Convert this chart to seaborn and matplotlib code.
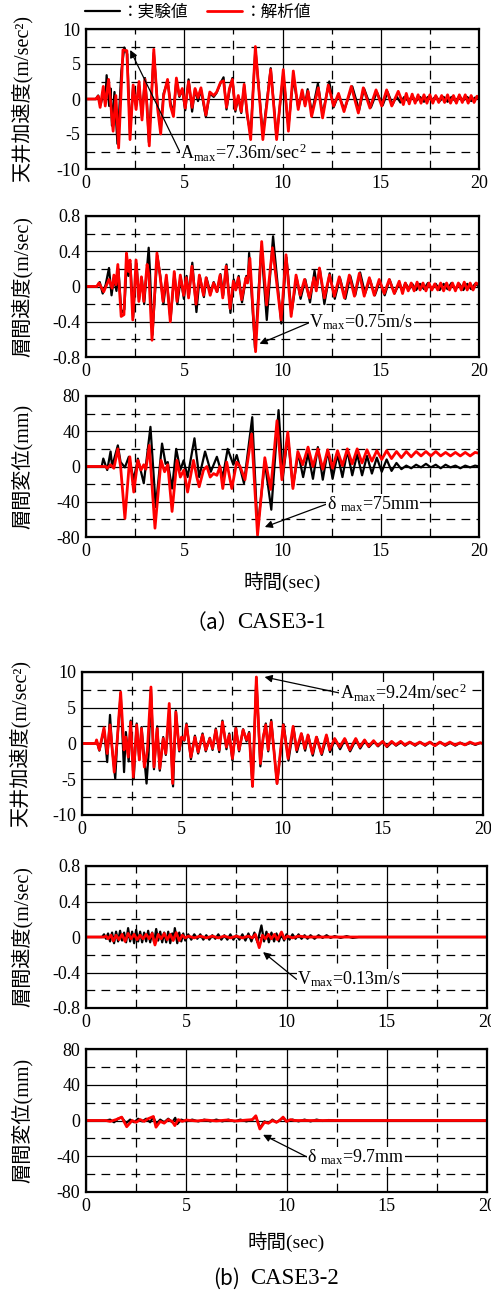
import matplotlib
matplotlib.use("Agg")
import matplotlib.pyplot as plt
import seaborn as sns

# ---------------- data (extrema) ----------------
# CASE3-1 ceiling acceleration (m/sec^2)
t_acc1_ana = [0, 0.5, 0.62, 0.72, 0.88, 0.98, 1.15, 1.38, 1.52, 1.66, 1.88, 2.08, 2.24, 2.4, 2.55, 2.7, 2.85, 3.0, 3.1, 3.22,
              3.45, 3.65, 3.8, 3.95, 4.15, 4.3, 4.45, 4.6, 4.75, 4.9, 5.05, 5.22, 5.4, 5.55, 5.7, 5.85, 6.1, 6.3, 6.5, 6.65,
              6.85, 7.0, 7.15, 7.3, 7.45, 7.6, 7.75, 7.9, 8.05, 8.2, 8.38, 8.62, 9.0, 9.4, 9.7, 10.04, 10.3, 10.55, 10.8, 11.0,
              11.15, 11.3, 11.48, 11.82, 12.04, 12.33, 12.6, 12.85, 13.13, 13.5, 13.86, 14.11, 14.45, 14.76, 15.05, 15.3, 15.56, 15.89, 16.15, 16.3,
              16.45, 16.6, 16.75, 16.9, 17.05, 17.2, 17.35, 17.5, 17.65, 17.8, 17.95, 18.1, 18.25, 18.4, 18.55, 18.7, 18.85, 19.0, 19.15, 19.3,
              19.45, 19.6, 19.75, 19.9, 20.0]
acc1_ana = [0, 0, 0.4, -1.2, 1.8, -1.0, 2.8, -4.6, 0.5, -7.0, 7.0, 6.9, -5.8, 2.0, -1.5, 2.5, -3.0, 2.8, -1.0, -6.7,
            7.1, -1.5, -5.0, 0.5, 2.8, -1.0, -2.5, 3.0, 0.5, 1.5, -1.3, 2.5, -1.2, 1.5, 0.2, 1.6, -2.3, 1.0, 0.5, 1.0,
            2.4, 2.6, -1.2, 1.5, 2.8, -1.5, 0.5, -1.8, 2.1, -2.0, -5.8, 7.5, -5.8, 4.2, -5.8, 4.2, -4.6, 4.0, -1.5, 1.3,
            -1.0, 1.1, -2.5, 1.6, -2.7, 2.0, -1.0, 0.8, -1.8, 1.8, -2.0, 1.6, -1.3, 1.3, -1.0, 1.3, -1.0, 1.1, -0.8, 0.8,
            -0.7, 0.7, -0.6, 0.6, -0.6, 0.6, -0.6, 0.6, -0.6, 0.5, -0.5, 0.5, -0.5, 0.6, -0.6, 0.5, -0.6, 0.6, -0.5, 0.6,
            -0.6, 0.5, -0.5, 0.4, 0]
t_acc1_exp = [0, 0.5, 0.62, 0.75, 0.9, 0.98, 1.05, 1.18, 1.25, 1.32, 1.45, 1.6, 1.8, 1.95, 2.1, 2.24, 2.4, 2.55, 2.7, 2.85,
              3.0, 3.1, 3.2, 3.45, 3.65, 3.8, 3.95, 4.15, 4.3, 4.45, 4.6, 4.75, 4.9, 5.05, 5.22, 5.4, 5.55, 5.7, 5.85, 6.1,
              6.3, 6.5, 6.65, 6.85, 7.0, 7.15, 7.3, 7.45, 7.6, 7.75, 7.9, 8.05, 8.2, 8.38, 8.62, 9.0, 9.4, 9.7, 10.04, 10.3,
              10.55, 10.8, 11.0, 11.15, 11.28, 11.5, 11.8, 12.04, 12.38, 12.6, 12.85, 13.15, 13.55, 13.9, 14.15, 14.5, 14.8, 15.1, 15.35, 15.6,
              15.8, 16.0, 16.2, 16.4, 16.6, 16.8, 17.0, 17.2, 17.4, 17.6, 17.8, 18.0, 18.2, 18.4, 18.6, 18.8, 19.0, 19.2, 19.4, 19.6,
              19.8, 20.0]
acc1_exp = [0, 0, 0.5, -0.8, 1.2, -0.5, 3.4, -1.0, 1.5, -3.8, 1.0, -6.4, 4.0, 7.36, 6.4, -5.0, 1.8, -1.0, 2.0, -2.5,
            3.0, -0.5, -6.2, 6.6, -1.0, -4.4, 0.8, 2.5, -0.5, -2.0, 2.7, 0.3, 1.3, -1.6, 2.8, -1.8, 1.4, -0.3, 1.3, -2.6,
            0.8, 0.3, 0.9, 2.3, 3.1, -1.5, 1.2, 3.0, -1.8, 0.3, -2.0, 1.9, -2.4, -5.0, 7.2, -5.2, 4.4, -5.4, 3.6, -4.0,
            3.0, -1.2, 0.9, -0.8, 1.4, -2.0, 2.2, -2.2, 2.5, -1.2, 0.6, -1.5, 1.8, -1.6, 1.5, -1.2, 1.0, -0.9, 1.0, -0.8,
            0.4, -0.5, 0.3, -0.3, 0.4, -0.3, 0.3, -0.4, 0.3, -0.2, 0.4, -0.3, 0.3, -0.4, 0.3, -0.3, 0.4, -0.2, 0.3, -0.3,
            0.2, 0]

# CASE3-1 inter-story velocity (m/sec)
t_vel1_ana = [0, 0.55, 0.66, 0.9, 1.17, 1.33, 1.42, 1.52, 1.62, 1.79, 1.93, 2.06, 2.16, 2.24, 2.38, 2.55, 2.69, 2.82, 2.94, 3.11,
              3.2, 3.36, 3.61, 3.78, 3.92, 4.09, 4.29, 4.49, 4.63, 4.8, 4.97, 5.1, 5.22, 5.39, 5.6, 5.77, 5.98, 6.11, 6.32, 6.49,
              6.66, 6.82, 6.96, 7.13, 7.33, 7.5, 7.62, 7.75, 7.92, 8.14, 8.22, 8.34, 8.63, 8.94, 9.19, 9.49, 9.93, 10.18, 10.44, 10.69,
              10.9, 11.12, 11.37, 11.6, 11.72, 11.88, 12.13, 12.39, 12.64, 12.89, 13.15, 13.4, 13.66, 13.91, 14.16, 14.42, 14.67, 14.92, 15.18, 15.43,
              15.69, 15.94, 16.11, 16.25, 16.4, 16.55, 16.7, 16.85, 17.0, 17.15, 17.3, 17.45, 17.6, 17.75, 17.9, 18.05, 18.2, 18.35, 18.5, 18.65,
              18.8, 18.95, 19.1, 19.25, 19.4, 19.55, 19.7, 19.85, 20.0]
vel1_ana = [0, 0, 0.04, -0.06, 0.08, -0.02, 0.13, 0.02, 0.25, -0.34, -0.32, 0.38, 0.17, 0.3, -0.38, 0.3, -0.17, 0.11, -0.17, 0.25,
            0.13, -0.61, 0.38, 0.1, -0.17, 0.13, -0.4, 0.17, -0.17, 0.13, -0.1, 0.1, -0.13, 0.23, -0.2, 0.13, -0.1, 0.1, -0.1, 0.04,
            -0.06, 0.13, -0.13, 0.23, -0.25, 0.06, -0.04, 0.1, -0.15, 0.1, 0.04, 0.32, -0.74, 0.51, -0.21, 0.44, -0.38, 0.36, -0.34, 0.13,
            -0.1, 0.08, -0.13, 0.1, -0.05, 0.21, -0.13, 0.13, -0.11, 0.11, -0.13, 0.13, -0.11, 0.15, -0.11, 0.1, -0.1, 0.08, -0.08, 0.08,
            -0.08, 0.06, -0.08, 0.04, -0.05, 0.04, -0.05, 0.05, -0.04, 0.04, -0.05, 0.04, -0.04, 0.03, -0.04, 0.04, -0.05, 0.04, -0.04, 0.04,
            -0.05, 0.04, -0.04, 0.05, -0.04, 0.04, -0.04, 0.04, 0.02]
t_vel1_exp = [0, 0.55, 0.7, 0.85, 1.0, 1.17, 1.3, 1.42, 1.55, 1.65, 1.8, 1.95, 2.08, 2.16, 2.26, 2.4, 2.57, 2.7, 2.84, 2.96,
              3.19, 3.25, 3.38, 3.63, 3.78, 3.94, 4.1, 4.3, 4.5, 4.65, 4.82, 4.98, 5.12, 5.24, 5.41, 5.62, 5.79, 6.0, 6.13, 6.34,
              6.5, 6.68, 6.84, 6.98, 7.15, 7.35, 7.52, 7.64, 7.77, 7.94, 8.16, 8.24, 8.3, 8.6, 8.92, 9.2, 9.52, 9.94, 10.2, 10.46,
              10.72, 10.92, 11.16, 11.4, 11.63, 11.75, 11.9, 12.13, 12.4, 12.66, 12.92, 13.2, 13.45, 13.7, 13.95, 14.2, 14.45, 14.7, 14.95, 15.2,
              15.45, 15.7, 15.95, 16.1, 16.25, 16.45, 16.6, 16.8, 17.0, 17.2, 17.4, 17.6, 17.8, 18.0, 18.2, 18.4, 18.6, 18.8, 19.0, 19.2,
              19.4, 19.6, 19.8, 20.0]
vel1_exp = [0, 0, 0.05, -0.08, 0.02, 0.21, -0.1, 0.1, -0.05, 0.2, -0.3, -0.26, 0.3, 0.12, 0.26, -0.35, 0.26, -0.15, 0.1, -0.2,
            0.44, 0.2, -0.55, 0.35, 0.12, -0.2, 0.1, -0.38, 0.15, -0.2, 0.1, -0.14, 0.12, -0.1, 0.27, -0.29, 0.12, -0.12, 0.1, -0.08,
            0.05, -0.06, 0.14, -0.1, 0.25, -0.3, 0.08, -0.03, 0.12, -0.18, 0.12, 0.05, 0.38, -0.7, 0.45, -0.38, 0.57, -0.42, 0.33, -0.3,
            0.1, -0.14, 0.08, -0.18, 0.18, 0.0, 0.2, -0.2, 0.15, -0.14, 0.1, -0.14, 0.12, -0.1, 0.16, -0.08, 0.08, -0.1, 0.06, -0.1,
            0.08, -0.08, 0.04, -0.05, 0.04, -0.03, 0.03, -0.04, 0.03, -0.03, 0.04, -0.03, 0.03, -0.04, 0.03, -0.03, 0.04, -0.03, 0.03, -0.04,
            0.03, -0.03, 0.03, 0.0]

# CASE3-1 inter-story drift (mm)
t_dis1_ana = [0, 1.0, 1.08, 1.25, 1.42, 1.62, 1.76, 1.98, 2.23, 2.43, 2.64, 2.8, 2.94, 3.05, 3.22, 3.51, 3.82, 4.0, 4.16, 4.38,
              4.63, 4.8, 4.98, 5.17, 5.47, 5.64, 5.76, 5.98, 6.15, 6.32, 6.49, 6.66, 6.82, 6.96, 7.16, 7.42, 7.67, 7.84, 8.09, 8.43,
              8.73, 9.1, 9.4, 9.72, 9.97, 10.27, 10.53, 10.78, 11.03, 11.3, 11.55, 11.8, 12.05, 12.3, 12.55, 12.8, 13.05, 13.3, 13.55, 13.8,
              14.05, 14.3, 14.55, 14.8, 15.05, 15.3, 15.55, 15.8, 16.05, 16.3, 16.55, 16.8, 17.05, 17.3, 17.55, 17.8, 18.05, 18.3, 18.55, 18.8,
              19.05, 19.3, 19.55, 19.8, 20.0]
dis1_ana = [0, 0, -2, 2, -2, 20, 0, -59, 11, -29, 7, -4, 2, -3, 24, -70, 7, -6, 2, -51,
            7, -12, -4, -29, 7, -12, -23, -4, 0, -12, -8, -10, 0, -25, 5, -25, 5, 0, -15, 37,
            -78, 10, -26, 52, -15, 39, -25, 17, 2, 22, 0, 20, -3, 19, -2, 18, 1, 20, 3, 20,
            4, 19, 6, 18, 8, 18, 9, 17, 10, 17, 11, 17, 12, 17, 12, 17, 12, 16, 12, 16,
            12, 16, 12, 16, 15]
t_dis1_exp = [0, 0.8, 0.88, 1.08, 1.25, 1.33, 1.62, 1.76, 1.98, 2.18, 2.43, 2.64, 2.94, 3.28, 3.55, 3.87, 4.05, 4.16, 4.38, 4.59,
              4.8, 4.97, 5.17, 5.52, 5.76, 6.06, 6.35, 6.66, 6.96, 7.21, 7.5, 7.67, 8.04, 8.46, 8.73, 9.1, 9.43, 9.8, 10.02, 10.27,
              10.53, 10.8, 11.05, 11.3, 11.55, 11.8, 12.05, 12.3, 12.55, 12.8, 13.05, 13.3, 13.55, 13.8, 14.05, 14.3, 14.55, 14.8, 15.05, 15.3,
              15.55, 15.8, 16.05, 16.3, 16.55, 16.8, 17.05, 17.3, 17.55, 17.8, 18.05, 18.3, 18.55, 18.8, 19.05, 19.3, 19.55, 19.8, 20.0]
dis1_exp = [0, 0, 9, -4, 17, 0, 24, 5, -1, 11, -15, 9, -19, 45, -46, 26, 3, 5, -25, 20,
            -4, 7, -12, 32, -12, 17, -6, 11, -12, 20, 2, 13, -19, 56, -72, 5, -49, 64, -12, 35,
            -23, 15, -12, 15, -14, 22, -15, 18, -14, 14, -12, 18, -10, 14, -10, 12, -8, 10, -6, 8,
            -5, 4, -3, 1, -2, 2, -1, 3, -1, 2, -2, 2, -1, 1, -2, 1, -1, 1, 0]

# CASE3-2 ceiling acceleration (m/sec^2)
t_acc2_ana = [0, 0.7, 0.75, 0.89, 1.12, 1.28, 1.42, 1.52, 1.63, 1.78, 1.95, 2.12, 2.21, 2.33, 2.45, 2.58, 2.75, 2.88, 2.99, 3.13,
              3.28, 3.46, 3.61, 3.77, 3.9, 4.07, 4.2, 4.37, 4.54, 4.7, 4.87, 4.98, 5.12, 5.23, 5.45, 5.65, 5.81, 6.03, 6.19, 6.39,
              6.53, 6.69, 6.86, 7.02, 7.22, 7.36, 7.52, 7.69, 7.85, 8.05, 8.22, 8.35, 8.52, 8.71, 8.91, 9.05, 9.18, 9.3, 9.45, 9.74,
              10.05, 10.29, 10.54, 10.71, 10.95, 11.12, 11.28, 11.5, 11.7, 11.95, 12.2, 12.36, 12.61, 12.86, 13.11, 13.36, 13.66, 13.86, 14.1, 14.3,
              14.55, 14.75, 15.0, 15.2, 15.45, 15.65, 15.9, 16.1, 16.35, 16.6, 16.85, 17.1, 17.35, 17.6, 17.85, 18.1, 18.35, 18.6, 18.85, 19.1,
              19.35, 19.6, 19.85, 20.0]
acc2_ana = [0, 0, 0.5, -0.9, 2.2, -1.4, 2.6, -0.5, -4.0, 0.5, 7.2, -0.9, 0.9, -1.9, 3.0, -4.7, 2.6, -2.3, 2.1, -3.3,
            -1.0, 7.9, -3.3, 2.1, -3.5, 0.7, -1.4, 5.6, -5.6, 4.4, -0.9, 0.9, 0.5, 2.6, -1.9, 0.9, -1.2, 1.2, -0.9, 0.7,
            -0.7, 1.9, -0.9, 3.0, -0.5, 1.2, -2.1, 2.1, -0.9, 1.9, 0.5, 1.4, -6.0, 9.3, -2.8, 0.9, 2.6, -0.9, 3.0, -5.6,
            2.6, -2.1, 2.4, -0.9, 1.4, -0.7, 1.2, -1.4, 0.9, -1.4, 1.2, -0.9, 0.7, -0.5, 0.7, -0.9, 0.7, -0.5, 0.5, -0.4,
            0.4, -0.3, 0.3, -0.4, 0.3, -0.2, 0.3, -0.2, 0.2, -0.2, 0.2, -0.2, 0.2, -0.3, 0.2, -0.2, 0.2, -0.2, 0.1, -0.2,
            0.2, -0.1, 0.1, 0]
t_acc2_exp = [0, 0.7, 0.75, 0.89, 1.12, 1.28, 1.42, 1.52, 1.68, 1.78, 1.95, 2.12, 2.21, 2.35, 2.45, 2.6, 2.75, 2.88, 2.99, 3.24,
              3.34, 3.46, 3.61, 3.77, 3.9, 4.07, 4.2, 4.37, 4.56, 4.7, 4.87, 4.98, 5.12, 5.23, 5.45, 5.65, 5.81, 6.03, 6.19, 6.39,
              6.53, 6.69, 6.86, 7.02, 7.22, 7.36, 7.52, 7.69, 7.85, 8.05, 8.22, 8.35, 8.52, 8.71, 8.91, 9.05, 9.18, 9.3, 9.45, 9.74,
              10.07, 10.31, 10.56, 10.73, 10.97, 11.14, 11.3, 11.52, 11.72, 11.97, 12.22, 12.38, 12.63, 12.88, 13.13, 13.38, 13.68, 13.88, 14.12, 14.32,
              14.57, 14.77, 15.02, 15.22, 15.47, 15.67, 15.92, 16.12, 16.37, 16.62, 16.87, 17.12, 17.37, 17.62, 17.87, 18.12, 18.37, 18.62, 18.87, 19.12,
              19.37, 19.62, 19.87, 20.0]
acc2_exp = [0, 0, 0.4, -1.0, 2.0, -2.6, 4.0, -0.5, -4.9, 0.3, 7.0, -4.0, 1.6, -2.5, 3.2, -5.0, 2.8, -2.3, 2.3, -5.6,
            -1.5, 7.6, -3.6, 2.4, -3.8, 0.9, -1.6, 4.5, -6.0, 4.6, -1.1, 0.8, 0.4, 2.8, -2.2, 1.1, -1.4, 1.4, -1.1, 0.8,
            -0.9, 2.1, -1.2, 3.2, -0.8, 1.4, -2.4, 2.3, -1.1, 2.0, 0.3, 1.6, -6.0, 9.24, -3.2, 0.8, 2.8, -1.1, 3.3, -5.6,
            2.7, -2.4, 2.2, -1.2, 1.3, -1.0, 1.1, -1.7, 0.9, -1.6, 1.0, -1.2, 0.6, -0.8, 0.6, -1.1, 0.6, -0.7, 0.4, -0.5,
            0.3, -0.4, 0.3, -0.5, 0.2, -0.3, 0.2, -0.3, 0.2, -0.3, 0.2, -0.3, 0.2, -0.3, 0.2, -0.3, 0.1, -0.3, 0.1, -0.2,
            0.1, -0.2, 0.1, 0]

# CASE3-2 inter-story velocity (m/sec)
t_vel2_ana = [0, 0.9, 1.0, 1.1, 1.25, 1.36, 1.5, 1.65, 1.8, 1.95, 2.1, 2.25, 2.4, 2.55, 2.7, 2.85, 3.0, 3.15, 3.3, 3.44,
              3.6, 3.75, 3.9, 4.05, 4.2, 4.35, 4.5, 4.65, 4.8, 4.95, 5.1, 5.4, 5.7, 6.0, 6.3, 6.6, 6.9, 7.2, 7.5, 7.8,
              8.1, 8.3, 8.45, 8.64, 8.8, 8.95, 9.1, 9.25, 9.4, 9.55, 9.75, 9.9, 10.05, 10.3, 10.6, 11.0, 20.0]
vel2_ana = [0, 0, 0.01, -0.02, 0.02, -0.045, 0.02, -0.03, 0.03, -0.05, 0.04, -0.02, 0.03, -0.03, 0.02, -0.02, 0.03, -0.02, 0.04, -0.09,
            0.03, -0.02, 0.04, -0.03, 0.03, -0.04, 0.05, -0.04, 0.02, -0.01, 0.01, -0.01, 0.01, -0.01, 0.01, -0.01, 0.01, -0.01, 0.01, -0.01,
            0.01, -0.01, 0.03, -0.12, 0.02, -0.02, 0.03, -0.02, 0.03, -0.03, 0.056, -0.02, 0.01, -0.01, 0.01, 0, 0]
t_vel2_exp = [0, 0.8, 0.9, 1.0, 1.1, 1.2, 1.3, 1.4, 1.5, 1.6, 1.7, 1.8, 1.9, 2.0, 2.1, 2.2, 2.3, 2.4, 2.5, 2.6,
              2.7, 2.8, 2.9, 3.0, 3.1, 3.2, 3.3, 3.4, 3.5, 3.6, 3.7, 3.8, 3.9, 4.0, 4.1, 4.2, 4.3, 4.37, 4.43, 4.55,
              4.65, 4.75, 4.85, 4.95, 5.1, 5.25, 5.4, 5.55, 5.7, 5.85, 6.0, 6.15, 6.3, 6.45, 6.6, 6.75, 6.9, 7.05, 7.2, 7.35,
              7.5, 7.65, 7.8, 7.95, 8.1, 8.25, 8.4, 8.55, 8.75, 8.88, 9.0, 9.12, 9.25, 9.38, 9.5, 9.62, 9.75, 9.88, 10.0, 10.15,
              10.3, 10.45, 10.6, 10.75, 10.9, 11.05, 11.2, 11.4, 11.6, 11.8, 12.0, 12.2, 12.4, 12.7, 13.0, 13.3, 13.6, 20.0]
vel2_exp = [0, 0, 0.03, -0.02, 0.04, -0.05, 0.05, -0.07, 0.06, -0.05, 0.07, -0.04, 0.05, -0.06, 0.1, -0.05, 0.06, -0.07, 0.08, -0.05,
            0.06, -0.06, 0.05, -0.05, 0.07, -0.06, 0.05, -0.06, 0.09, -0.04, 0.06, -0.06, 0.05, -0.06, 0.06, -0.07, 0.04, -0.02, 0.1, -0.07,
            0.05, -0.05, 0.04, -0.04, 0.03, -0.03, 0.03, -0.02, 0.03, -0.03, 0.02, -0.03, 0.02, -0.02, 0.03, -0.03, 0.02, -0.03, 0.03, -0.03,
            0.02, -0.03, 0.03, -0.04, 0.04, -0.05, 0.05, -0.06, 0.13, -0.05, 0.06, -0.06, 0.05, -0.05, 0.04, -0.05, 0.04, -0.04, 0.03, -0.03,
            0.03, -0.02, 0.03, -0.02, 0.02, -0.02, 0.02, -0.02, 0.02, -0.01, 0.02, -0.01, 0.01, -0.01, 0.01, -0.01, 0, 0]

# CASE3-2 inter-story drift (mm)
t_dis2_ana = [0, 1.0, 1.2, 1.5, 1.78, 2.03, 2.3, 2.5, 2.7, 2.9, 3.1, 3.36, 3.49, 3.7, 3.9, 4.1, 4.3, 4.43, 4.6, 4.8,
              5.0, 5.5, 6.0, 6.5, 7.0, 7.5, 8.0, 8.3, 8.47, 8.67, 8.9, 9.1, 9.3, 9.5, 9.65, 9.83, 10.0, 10.2, 10.4, 11.0, 20.0]
dis2_ana = [0, 0, -1, 1, 3.8, -7, 0, -2, 1, -1, 2, 4.5, -7.5, -1, -3, 1, -1, -5.7, 1, -1,
            0.5, -0.5, 0.5, -0.5, 0.5, -0.5, 0.5, 1, 5.3, -9.5, -2, -3, 0, -2, 0, 3.8, -1, 1, 0, 0, 0]
t_dis2_exp = [0, 1.0, 1.2, 1.4, 1.6, 1.78, 2.0, 2.2, 2.4, 2.6, 2.8, 3.0, 3.2, 3.36, 3.5, 3.7, 3.9, 4.1, 4.3, 4.45,
              4.55, 4.75, 5.0, 5.3, 5.6, 5.9, 6.2, 6.5, 6.8, 7.1, 7.4, 7.7, 8.0, 8.3, 8.47, 8.67, 8.9, 9.1, 9.3, 9.5,
              9.7, 9.83, 10.0, 10.3, 10.6, 10.9, 11.2, 11.5, 11.8, 12.1, 12.5, 20.0]
dis2_exp = [0, 0, 1, -2, 2, 3.5, -3, 1, -2, 2, -1, 2, -2, 4, -4, 1, -2, 2, -2, 3,
            -4, 1, -1, 1, -1, 1, -1, 1, -1, 1, -1, 1, -1, 1, 4.5, -8, -1, -3, 1, -2,
            1, 3, -1, 1, -1, 1, -1, 1, -0.5, 0.5, 0, 0]

x_ticks = [0, 5, 10, 15, 20]
x_ticklabels = ["0", "5", "10", "15", "20"]
acc_ticks, acc_labels = [-10, -5, 0, 5, 10], ["-10", "-5", "0", "5", "10"]
vel_ticks, vel_labels = [-0.8, -0.4, 0, 0.4, 0.8], ["-0.8", "-0.4", "0", "0.4", "0.8"]
dis_ticks, dis_labels = [-80, -40, 0, 40, 80], ["-80", "-40", "0", "40", "80"]
legend_labels = ["：実験値", "：解析値"]

# ---------------- styling ----------------
sns.set_theme(style="white")
plt.rcParams["font.family"] = ["Liberation Serif", "Noto Sans CJK JP"]
plt.rcParams["mathtext.fontset"] = "custom"
plt.rcParams["mathtext.rm"] = "Liberation Serif"
plt.rcParams["mathtext.it"] = "Liberation Serif:italic"
plt.rcParams["axes.unicode_minus"] = False
for k in ["text.color", "axes.labelcolor", "xtick.color", "ytick.color", "axes.edgecolor"]:
    plt.rcParams[k] = "black"

W, H = 491, 1292
fig = plt.figure(figsize=(W / 100, H / 100), dpi=100)


def px_axes(left, top, right, bottom):
    return fig.add_axes([left / W, 1 - bottom / H, (right - left) / W, (bottom - top) / H])


def style(ax, ticks, labels, ylabel, label_x):
    lim = ticks[-1]
    ax.set_xlim(0, 20)
    ax.set_ylim(-lim, lim)
    ax.set_xticks(x_ticks)
    ax.set_xticklabels(x_ticklabels)
    ax.set_xticks([2.5, 7.5, 12.5, 17.5], minor=True)
    ax.set_yticks(ticks)
    ax.set_yticklabels(labels)
    ax.set_yticks([-0.75 * lim, -0.25 * lim, 0.25 * lim, 0.75 * lim], minor=True)
    ax.grid(which="major", color="black", lw=0.9, ls="-")
    ax.grid(which="minor", color="black", lw=0.9, ls=(0, (7, 5)))
    ax.set_axisbelow(True)
    ax.tick_params(which="both", length=0, labelsize=13, pad=4)
    for s in ax.spines.values():
        s.set_linewidth(1.6)
        s.set_color("black")
    ax.set_xlabel("")
    ax.set_ylabel(ylabel, fontsize=14.5)
    ax.yaxis.set_label_coords(label_x, 0.5)


def draw(ax, te, ve, ta, va, with_label=False):
    sns.lineplot(x=te, y=ve, ax=ax, color="black", linewidth=1.6, estimator=None, sort=False,
                 legend=False, label=legend_labels[0] if with_label else None)
    sns.lineplot(x=ta, y=va, ax=ax, color="#ff0000", linewidth=2.0, estimator=None, sort=False,
                 legend=False, label=legend_labels[1] if with_label else None)
    for ln in ax.get_lines():
        ln.set_solid_joinstyle("round")


def note(ax, text, xy, xytext):
    ax.annotate(text, xy=xy, xytext=xytext, textcoords="data", fontsize=13,
                ha="left", va="center", zorder=5,
                bbox=dict(facecolor="white", edgecolor="none", pad=0.3),
                arrowprops=dict(arrowstyle="-|>", color="black", lw=0.9, shrinkA=0, shrinkB=0,
                                mutation_scale=11, relpos=(0, 0.5)))


acc_label = "天井加速度(m/sec²)"
vel_label = "層間速度(m/sec)"
dis_label = "層間変位(mm)"

# ---- (a) CASE3-1 ----
ax1 = px_axes(86, 29, 479, 169)
draw(ax1, t_acc1_exp, acc1_exp, t_acc1_ana, acc1_ana, with_label=True)
style(ax1, acc_ticks, acc_labels, acc_label, -0.135)
note(ax1, "A$_\\mathrm{max}$=7.36m/sec$^\\mathrm{2}$", (2.25, 7.0), (4.8, -7.7))
ax1.legend(loc="center left", bbox_to_anchor=(-0.003, 1.121), ncol=2, frameon=False,
           borderpad=0, borderaxespad=0, handlelength=2.1, handletextpad=0.15, columnspacing=1.1,
           prop={"family": ["Noto Sans CJK JP"], "size": 12})

ax2 = px_axes(86, 216, 479, 357)
draw(ax2, t_vel1_exp, vel1_exp, t_vel1_ana, vel1_ana)
style(ax2, vel_ticks, vel_labels, vel_label, -0.135)
note(ax2, "V$_\\mathrm{max}$=0.75m/s", (8.83, -0.65), (11.37, -0.41))

ax3 = px_axes(86, 396, 479, 537)
draw(ax3, t_dis1_exp, dis1_exp, t_dis1_ana, dis1_ana)
style(ax3, dis_ticks, dis_labels, dis_label, -0.135)
note(ax3, "δ $_\\mathrm{max}$=75mm", (9.1, -68.7), (12.25, -42.6))
ax3.set_xlabel("時間(sec)", fontsize=14, labelpad=9)

fig.text(186 / W, 1 - 623 / H, "（a）", fontsize=15, family=["Noto Sans CJK JP"], ha="left", va="center")
fig.text(237 / W, 1 - 623 / H, "CASE3-1", fontsize=16.5, ha="left", va="center")

# ---- (b) CASE3-2 ----
ax4 = px_axes(81.5, 672, 483, 815)
draw(ax4, t_acc2_exp, acc2_exp, t_acc2_ana, acc2_ana)
style(ax4, acc_ticks, acc_labels, acc_label, -0.126)
note(ax4, "A$_\\mathrm{max}$=9.24m/sec$^\\mathrm{2}$", (9.12, 9.3), (12.86, 7.06))

ax5 = px_axes(86, 866, 487, 1008)
draw(ax5, t_vel2_exp, vel2_exp, t_vel2_ana, vel2_ana)
style(ax5, vel_ticks, vel_labels, vel_label, -0.132)
note(ax5, "V$_\\mathrm{max}$=0.13m/s", (8.83, -0.17), (10.52, -0.48))

ax6 = px_axes(86, 1049, 487, 1192)
draw(ax6, t_dis2_exp, dis2_exp, t_dis2_ana, dis2_ana)
style(ax6, dis_ticks, dis_labels, dis_label, -0.132)
note(ax6, "δ $_\\mathrm{max}$=9.7mm", (8.83, -16), (11.02, -40.8))
ax6.set_xlabel("時間(sec)", fontsize=14, labelpad=12)

fig.text(213 / W, 1 - 1279 / H, "(b)", fontsize=15, family=["Noto Sans CJK JP"], ha="left", va="center")
fig.text(250 / W, 1 - 1279 / H, "CASE3-2", fontsize=16.5, ha="left", va="center")

fig.savefig("out.png", dpi=100)
